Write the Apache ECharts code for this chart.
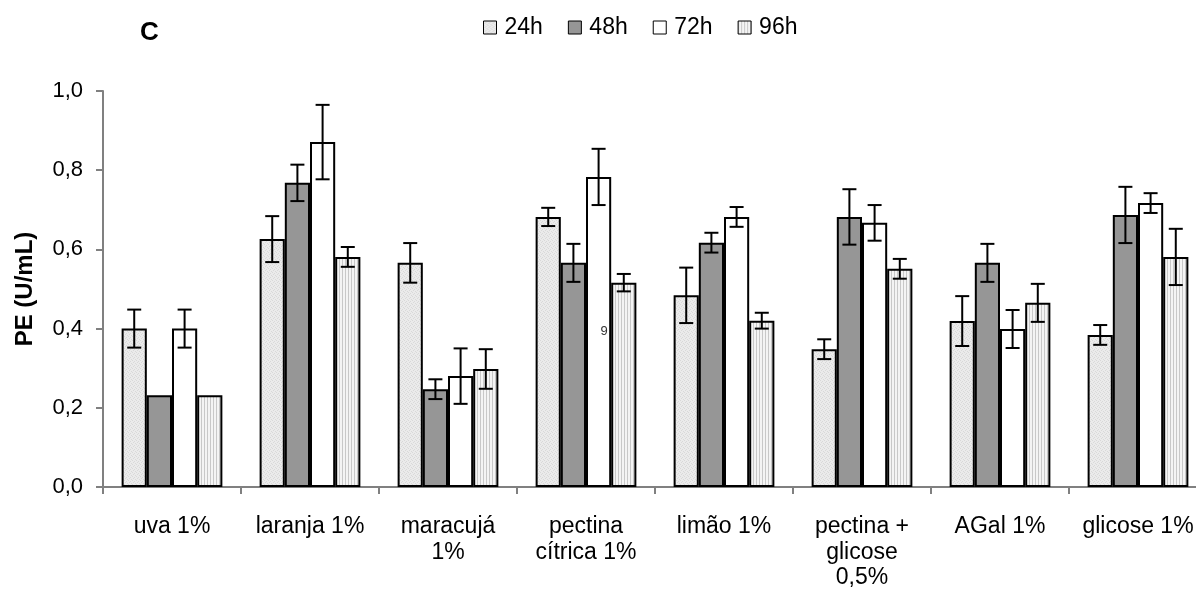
<!DOCTYPE html>
<html>
<head>
<meta charset="utf-8">
<script src="https://cdn.jsdelivr.net/npm/echarts@6/dist/echarts.min.js"></script>
<style>
html,body{margin:0;padding:0;background:#fff;}
#chart{width:1196px;height:598px;}
</style>
</head>
<body>
<div id="chart"></div>
<script>
// ---- data ----
const categories = ['uva 1%', 'laranja 1%', 'maracujá\n1%', 'pectina\ncítrica 1%', 'limão 1%', 'pectina +\nglicose\n0,5%', 'AGal 1%', 'glicose 1%'];
const seriesNames = ['24h', '48h', '72h', '96h'];
const h24 = [0.400, 0.626, 0.566, 0.682, 0.484, 0.348, 0.419, 0.384];
const h48 = [0.232, 0.768, 0.247, 0.566, 0.617, 0.682, 0.566, 0.687];
const h72 = [0.400, 0.871, 0.280, 0.783, 0.682, 0.667, 0.399, 0.717];
const h96 = [0.232, 0.581, 0.298, 0.516, 0.420, 0.551, 0.465, 0.581];
const err24 = [0.048, 0.058, 0.050, 0.023, 0.070, 0.025, 0.063, 0.025];
const err48 = [0, 0.046, 0.025, 0.048, 0.025, 0.070, 0.048, 0.071];
const err72 = [0.048, 0.094, 0.070, 0.071, 0.025, 0.045, 0.048, 0.025];
const err96 = [0, 0.025, 0.050, 0.022, 0.020, 0.025, 0.048, 0.071];
const yTicks = [0, 0.2, 0.4, 0.6, 0.8, 1.0];

const values = [h24, h48, h72, h96];
const errors = [err24, err48, err72, err96];

// ---- fill patterns ----
function makePattern(w, h, draw) {
  const c = document.createElement('canvas');
  c.width = w; c.height = h;
  const ctx = c.getContext('2d');
  draw(ctx);
  return { image: c, repeat: 'repeat' };
}
const pat24 = makePattern(4, 4, ctx => {
  ctx.fillStyle = '#ebebeb'; ctx.fillRect(0, 0, 4, 4);
  ctx.fillStyle = '#d9d9d9';
  ctx.fillRect(0, 0, 1, 1); ctx.fillRect(2, 1, 1, 1); ctx.fillRect(1, 2, 1, 1); ctx.fillRect(3, 3, 1, 1);
});
const pat96 = makePattern(3, 3, ctx => {
  ctx.fillStyle = '#f4f4f4'; ctx.fillRect(0, 0, 3, 3);
  ctx.fillStyle = '#c8c8c8'; ctx.fillRect(0, 0, 1, 3);
});
const fills = [pat24, '#969696', '#ffffff', pat96];

const GAP = 0.27;
const FONT = 'Liberation Sans, Arial, sans-serif';

const series = [];
seriesNames.forEach((name, k) => {
  series.push({
    name: name,
    type: 'bar',
    data: values[k],
    barGap: '0%',
    barCategoryGap: (GAP * 100) + '%',
    itemStyle: { color: fills[k], borderColor: '#000', borderWidth: 2 },
    emphasis: { disabled: true },
    z: 2
  });
});
seriesNames.forEach((name, k) => {
  series.push({
    name: 'err' + name,
    type: 'custom',
    z: 5,
    silent: true,
    clip: false,
    data: categories.map((c, i) => [i, values[k][i], errors[k][i]]),
    renderItem: function (params, api) {
      const cat = api.value(0), val = api.value(1), err = api.value(2);
      if (!err) return null;
      const band = api.size([1, 0])[0];
      const bw = band * (1 - GAP) / 4;
      const c = api.coord([cat, val]);
      const x = c[0] + (k - 1.5) * bw;
      const yt = api.coord([cat, val + err])[1];
      const yb = api.coord([cat, val - err])[1];
      const st = { stroke: '#000', lineWidth: 2 };
      const hw = 7;
      return {
        type: 'group',
        children: [
          { type: 'line', shape: { x1: x, y1: yt, x2: x, y2: yb }, style: st },
          { type: 'line', shape: { x1: x - hw, y1: yt, x2: x + hw, y2: yt }, style: st },
          { type: 'line', shape: { x1: x - hw, y1: yb, x2: x + hw, y2: yb }, style: st }
        ]
      };
    }
  });
});

const chart = echarts.init(document.getElementById('chart'), null, { renderer: 'canvas' });
chart.setOption({
  animation: false,
  backgroundColor: '#fff',
  textStyle: { fontFamily: FONT },
  grid: { left: 103, top: 91, width: 1104, height: 396, outerBoundsMode: 'none', containLabel: false },
  legend: {
    data: seriesNames,
    left: 483, top: 16,
    padding: 0,
    icon: 'rect',
    itemWidth: 13, itemHeight: 13,
    itemGap: 25,
    itemStyle: { borderColor: '#000', borderWidth: 1 },
    textStyle: { fontSize: 23, color: '#000', fontFamily: FONT, padding: [0, 0, 0, 3] },
    selectedMode: false
  },
  xAxis: {
    type: 'category',
    data: categories,
    axisLine: { lineStyle: { color: '#808080', width: 2 } },
    axisTick: { show: true, length: 7, lineStyle: { color: '#808080', width: 2 } },
    axisLabel: { color: '#000', fontSize: 23, lineHeight: 25.5, margin: 27, interval: 0, fontFamily: FONT, hideOverlap: false }
  },
  yAxis: {
    type: 'value',
    min: 0, max: 1, interval: 0.2,
    name: 'PE (U/mL)',
    nameLocation: 'middle',
    nameGap: 66,
    nameTextStyle: { fontSize: 24, fontWeight: 'bold', color: '#000', fontFamily: FONT },
    splitLine: { show: false },
    axisLine: { show: true, lineStyle: { color: '#808080', width: 2 } },
    axisTick: { show: true, length: 7, lineStyle: { color: '#808080', width: 2 } },
    axisLabel: {
      color: '#000', fontSize: 22, margin: 20, fontFamily: FONT,
      formatter: v => v.toFixed(1).replace('.', ',')
    }
  },
  graphic: [
    { type: 'text', left: 140, top: 20, z: 100, style: { text: 'C', font: 'bold 26px ' + FONT, fill: '#000' } },
    { type: 'text', x: 604, y: 331, z: 100, style: { text: '9', font: '13px ' + FONT, fill: '#333', align: 'center', verticalAlign: 'middle' } }
  ],
  series: series
});
</script>
</body>
</html>
